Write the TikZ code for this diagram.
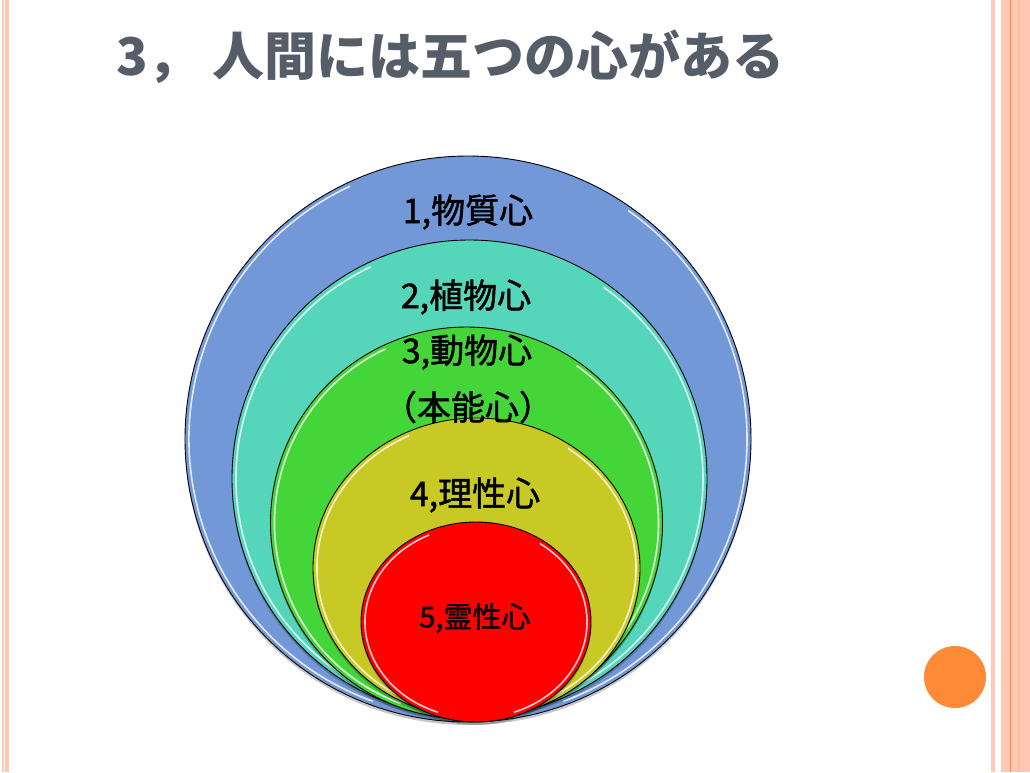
\documentclass[tikz,border=0pt]{standalone}
\usepackage{fontspec}
\newfontfamily\cjk{Noto Sans CJK JP}
\newfontfamily\cjkm[FakeBold=1.4]{Noto Sans CJK JP}
\usetikzlibrary{shapes.geometric}
\definecolor{salmon}{HTML}{FFC8B4}
\definecolor{salmondk}{HTML}{FFBBA2}
\definecolor{orangeln}{HTML}{FF8A2E}
\definecolor{orangedot}{HTML}{FE8A37}
\definecolor{titlegray}{HTML}{555D69}
\definecolor{cblue}{HTML}{7398D8}
\definecolor{cteal}{HTML}{55D6BA}
\definecolor{cgreen}{HTML}{44D639}
\definecolor{cyellow}{HTML}{C8C924}
\definecolor{cred}{HTML}{FF0000}
\tikzset{
  lbl/.style={inner sep=0pt, font=\cjkm\fontsize{34}{38}\selectfont, text=black},
  ring/.style={draw=black, line width=0.9pt},
  shine/.style={draw=white, line width=1.6pt, opacity=0.8},
  shade/.style={fill=black, opacity=0.22},
}
\begin{document}
\begin{tikzpicture}[x=1pt,y=-1pt]
\useasboundingbox (0,0) rectangle (1030,772);
\fill[white] (0,0) rectangle (1030,772);
% borders
\fill[salmon] (2,0) rectangle (3.5,772);
\fill[salmon] (5,0) rectangle (9,772);
\fill[salmon] (991,0) rectangle (995,772);
\fill[salmon] (1001,0) rectangle (1030,772);
\fill[salmondk] (1018,0) rectangle (1020,772);
\fill[orangeln] (1010,0) rectangle (1011.2,772);
% orange dot
\fill[orangedot] (955,677) circle (31);
% title
\node[anchor=base west, inner sep=0pt, text=titlegray,
      font=\cjk\bfseries\fontsize{52}{60}\selectfont] (title) at (116,75) {3，\hspace{13pt}人間には五つの心がある};
% circles: blue
\fill[shade] (468,442) ellipse [x radius=283, y radius=283];
\path[fill=cblue, ring] (468,439) ellipse [x radius=283, y radius=283];
\draw[shine] (468,439) ++(110:279) arc[start angle=110, end angle=245, radius=279];
\draw[shine] (468,439) ++(-55:279) arc[start angle=-55, end angle=70, radius=279];
% teal
\fill[shade] (469.5,481.5) ellipse [x radius=237.5, y radius=238.5];
\path[fill=cteal, ring] (469.5,478.5) ellipse [x radius=237.5, y radius=238.5];
\draw[shine] (469.5,478.5) ++(110:233.5) arc[start angle=110, end angle=245, radius=233.5];
\draw[shine] (469.5,478.5) ++(-55:233.5) arc[start angle=-55, end angle=70, radius=233.5];
% green
\fill[shade] (466.5,526) ellipse [x radius=196, y radius=196];
\path[fill=cgreen, ring] (466.5,523) ellipse [x radius=196, y radius=196];
\draw[shine] (466.5,523) ++(110:192) arc[start angle=110, end angle=245, radius=192];
\draw[shine] (466.5,523) ++(-55:192) arc[start angle=-55, end angle=70, radius=192];
% yellow
\fill[shade] (476.5,571) ellipse [x radius=163.5, y radius=150];
\path[fill=cyellow, ring] (476.5,568) ellipse [x radius=163.5, y radius=150];
\draw[shine] (476.5,568) ++(-55:{159.5 and 146}) arc[start angle=-55, end angle=70, x radius=159.5, y radius=146];
\draw[shine] (476.5,568) ++(110:{159.5 and 146}) arc[start angle=110, end angle=245, x radius=159.5, y radius=146];
% red
\fill[shade] (476,625) ellipse [x radius=115, y radius=100];
\path[fill=cred, ring] (476,622) ellipse [x radius=115, y radius=100];
\draw[shine] (476,622) ++(-55:{111 and 96}) arc[start angle=-55, end angle=70, x radius=111, y radius=96];
\draw[shine] (476,622) ++(110:{111 and 96}) arc[start angle=110, end angle=245, x radius=111, y radius=96];
% labels
\node[lbl] (l1) at (468,212) {1,物質心};
\node[lbl] (l2) at (466,297) {2,植物心};
\node[lbl] (l3) at (467,352) {3,動物心};
\node[lbl] (l3b) at (468,407) {（本能心）};
\node[lbl] (l4) at (475,495) {4,理性心};
\node[lbl, font=\cjkm\fontsize{29}{32}\selectfont] (l5) at (475,618) {5,霊性心};
\end{tikzpicture}
\end{document}
